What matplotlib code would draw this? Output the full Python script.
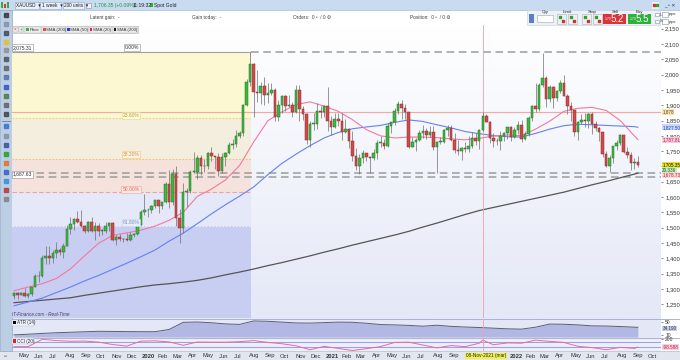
import numpy as np
import pandas as pd
import matplotlib.pyplot as plt
import matplotlib.dates as mdates
from matplotlib.patches import Rectangle
from matplotlib.colors import LinearSegmentedColormap

# weekly XAUUSD candles, one per week starting Monday 2019-04-22
first_week = '2019-04-22'
first_open = 1276
closes = [1286, 1281, 1286, 1277, 1284, 1305, 1341, 1341, 1400, 1409, 1400, 1416, 1426, 1419, 1440, 1497,
          1513, 1527, 1520, 1507, 1488, 1517, 1490, 1505, 1489, 1490, 1505, 1514, 1459, 1468, 1462, 1464,
          1460, 1476, 1478, 1510, 1552,
          1557, 1557, 1571, 1589, 1570, 1584, 1643, 1585, 1674, 1530, 1498, 1617, 1620, 1683, 1683, 1729,
          1700, 1703, 1743, 1735, 1730, 1685, 1730, 1744, 1771, 1774, 1799, 1810, 1902, 1975, 2035, 1944,
          1940, 1964, 1934, 1940, 1950, 1861, 1900, 1930, 1899, 1902, 1879, 1951, 1889, 1871, 1788, 1839,
          1839, 1881, 1877, 1898,
          1849, 1828, 1856, 1847, 1814, 1823, 1784, 1734, 1700, 1727, 1745, 1732, 1729, 1744, 1777, 1777,
          1768, 1831, 1844, 1881, 1905, 1891, 1877, 1764, 1781, 1787, 1808, 1815, 1802, 1814, 1763, 1780,
          1781, 1818, 1827, 1788, 1754, 1750, 1761, 1757, 1767, 1793, 1783, 1818, 1865, 1846, 1792, 1783,
          1782, 1798, 1808, 1829,
          1797, 1818, 1835, 1791, 1807, 1859, 1898, 1889, 1966, 1988, 1921, 1958, 1925, 1945, 1974, 1931,
          1897, 1883, 1811, 1846, 1853, 1850, 1871, 1840, 1827, 1811, 1742, 1703, 1727, 1766, 1775, 1802,
          1747, 1737, 1712, 1716, 1706]
highs = [1289, 1290, 1289, 1304, 1287, 1306, 1348, 1358, 1411, 1439, 1439, 1426, 1453, 1434, 1449, 1510,
         1535, 1531, 1555, 1557, 1510, 1523, 1535, 1519, 1516, 1497, 1518, 1517, 1518, 1475, 1478, 1467,
         1484, 1486, 1482, 1514, 1557,
         1611, 1563, 1574, 1591, 1590, 1585, 1649, 1689, 1692, 1703, 1560, 1645, 1630, 1690, 1747, 1739,
         1736, 1723, 1747, 1765, 1735, 1744, 1744, 1747, 1779, 1789, 1818, 1815, 1905, 1984, 2075, 2039,
         2015, 1977, 1992, 1973, 1973, 1955, 1917, 1933, 1933, 1932, 1911, 1965, 1965, 1898, 1875, 1848,
         1875, 1906, 1896, 1900,
         1959, 1864, 1876, 1875, 1875, 1855, 1825, 1816, 1760, 1740, 1755, 1745, 1733, 1758, 1785, 1798,
         1790, 1843, 1846, 1890, 1913, 1916, 1903, 1878, 1795, 1793, 1818, 1834, 1825, 1832, 1833, 1782,
         1795, 1823, 1834, 1834, 1809, 1787, 1764, 1781, 1800, 1813, 1810, 1823, 1877, 1870, 1849, 1808,
         1793, 1815, 1812, 1830,
         1831, 1830, 1848, 1853, 1815, 1865, 1902, 1974, 1974, 2070, 1995, 1966, 1962, 1949, 1982, 1998,
         1936, 1910, 1886, 1850, 1870, 1874, 1876, 1879, 1847, 1830, 1812, 1752, 1739, 1767, 1788, 1807,
         1802, 1765, 1746, 1729, 1735]
lows = [1266, 1266, 1279, 1274, 1270, 1278, 1305, 1321, 1340, 1382, 1382, 1386, 1401, 1412, 1400, 1440,
        1480, 1492, 1516, 1501, 1484, 1485, 1486, 1459, 1474, 1477, 1483, 1489, 1456, 1445, 1455, 1452,
        1458, 1455, 1471, 1477, 1508,
        1540, 1536, 1548, 1563, 1548, 1562, 1580, 1564, 1573, 1504, 1451, 1483, 1567, 1614, 1680, 1659,
        1672, 1683, 1692, 1717, 1693, 1670, 1677, 1703, 1742, 1757, 1763, 1793, 1801, 1899, 1962, 1863,
        1911, 1903, 1902, 1906, 1933, 1849, 1848, 1873, 1882, 1894, 1860, 1875, 1850, 1853, 1774, 1765,
        1820, 1823, 1859, 1863,
        1817, 1803, 1824, 1831, 1785, 1808, 1760, 1717, 1687, 1676, 1712, 1717, 1677, 1721, 1723, 1762,
        1756, 1765, 1808, 1836, 1870, 1855, 1855, 1761, 1763, 1750, 1782, 1792, 1789, 1795, 1755, 1677,
        1773, 1775, 1800, 1782, 1745, 1737, 1721, 1746, 1746, 1760, 1771, 1758, 1816, 1844, 1778, 1762,
        1770, 1753, 1782, 1789,
        1782, 1792, 1806, 1781, 1788, 1800, 1849, 1878, 1880, 1958, 1895, 1910, 1890, 1915, 1939, 1930,
        1872, 1850, 1798, 1787, 1840, 1828, 1825, 1805, 1817, 1784, 1732, 1697, 1681, 1711, 1754, 1771,
        1745, 1727, 1688, 1691, 1697]

ind_idx = list(range(0, 177, 4)) + [177]
sma20 = [1294, 1306, 1317, 1334, 1365, 1408, 1449, 1475, 1483, 1492, 1505, 1524, 1550, 1602, 1626, 1656,
         1703, 1780, 1849, 1878, 1902, 1911, 1897, 1880, 1853, 1820, 1800, 1793, 1796, 1796, 1794, 1790,
         1787, 1792, 1799, 1803, 1800, 1822, 1848, 1880, 1890, 1893, 1883, 1850, 1800, 1788]
sma50 = [1245, 1257, 1270, 1288, 1306, 1326, 1344, 1364, 1384, 1405, 1427, 1456, 1482, 1513, 1545, 1575,
         1603, 1633, 1673, 1710, 1740, 1768, 1793, 1811, 1823, 1829, 1834, 1844, 1852, 1847, 1836, 1826,
         1814, 1807, 1801, 1797, 1796, 1808, 1822, 1833, 1838, 1836, 1834, 1832, 1830, 1828]
sma200 = [1255, 1259, 1263, 1267, 1271, 1279, 1286, 1293, 1300, 1307, 1313, 1317, 1322, 1328, 1336, 1346,
          1355, 1365, 1376, 1386, 1397, 1408, 1420, 1431, 1443, 1454, 1465, 1476, 1488, 1502, 1515, 1529,
          1543, 1556, 1566, 1576, 1586, 1596, 1606, 1616, 1628, 1640, 1651, 1663, 1675, 1678]
atr14 = [11.5, 13.5, 16, 18, 19.5, 21, 22.4, 22, 21.5, 21.2, 21.2, 28, 49.9, 50.8, 48.5, 45,
         43.5, 54, 53, 50.5, 48, 47.5, 49, 50.5, 50, 47, 43, 42, 40.5, 38, 41, 37.5,
         35.5, 34, 32, 30, 29, 35, 44.5, 44, 42, 39, 38.5, 37, 35, 34.6]
cci_idx = [0, 4, 8, 12, 16, 20, 24, 28, 32, 36, 40, 44, 48, 52, 56, 60, 64, 68, 72, 76, 80, 84, 88, 92,
           96, 100, 104, 108, 112, 116, 120, 124, 128, 132, 133, 136, 140, 144, 148, 152, 156, 160, 164,
           168, 172, 176, 177]
cci20 = [-82, -82, 200, 150, 125, 132, 90, 0, -61, 130, 143, 100, -30, 95, 90, 90, 110, 150, 80, 30, -50,
         -200, -70, -150, -230, -160, -80, 80, 90, -20, -130, -40, -82, 50, 170, -10, 61, 50, 170, 120, 80,
         -70, -120, -200, -110, -150, -98]

fib_high = 2075.31
fib_range = 920
fib_pcts = [0.236, 0.382, 0.5, 0.618]
fib_names = ['23.60%', '38.20%', '50.00%', '61.80%']
fib_end = '2020-08-04'
support_lines = [1678, 1667]
resist_line = 1878
cross_date = '2021-11-08'
price_ticks = list(range(1250, 2151, 50))
hidden_ticks = [1700]
hidden_months = ['2021-10', '2021-11', '2021-12']

plt.rcParams['font.family'] = ['Liberation Sans', 'DejaVu Sans']

W, H = 680, 360
fig = plt.figure(figsize=(W / 100, H / 100), dpi=100)


def px_axes(x0, y0, x1, y1, z):
    a = fig.add_axes([x0 / W, 1 - y1 / H, (x1 - x0) / W, (y1 - y0) / H])
    a.set_zorder(z)
    a.patch.set_alpha(0)
    return a


def box(a, x0, y0, x1, y1, fc, ec='none', lw=0.5, z=1):
    a.add_patch(Rectangle((x0, y0), x1 - x0, y1 - y0, facecolor=fc, edgecolor=ec, lw=lw, zorder=z))


ui = px_axes(0, 0, W, H, 0)
top = px_axes(0, 0, W, H, 10)

# ---- chrome / backgrounds
box(ui, 0, 0, W, H, 'white', z=0)
grad = np.linspace(0, 1, 100)[:, None]
cmap = LinearSegmentedColormap.from_list('bg', ['#ffffff', '#f2f4fb', '#e4e8f7'])
ui.imshow(grad, cmap=cmap, extent=(12, 661, 318, 25), aspect='auto', origin='upper', zorder=0.5)
box(ui, 12, 318, 661, 337.5, '#e4e7f5', z=1)
box(ui, 12, 337.5, 661, 351, '#eceef8', z=1)
ui.plot([12, 680], [318.5, 318.5], color='#aab4d0', lw=0.7, zorder=2)
ui.plot([12, 680], [337.5, 337.5], color='#aab4d0', lw=0.7, zorder=2)
box(ui, 0, 351, W, H, '#e2e6ef', z=1)
ui.plot([0, W], [351, 351], color='#b8c2d4', lw=0.5, zorder=2)
box(ui, 0, 0, W, 9.5, '#c9dbf1', z=1)
ui.plot([0, W], [9.5, 9.5], color='#9cb3d3', lw=0.5, zorder=2)
box(ui, 0, 9.5, 11.5, 351, '#bccee3', ec='#95a9c4', lw=0.5, z=2)
box(ui, 527, 9.5, 660, 25, '#edf1f7', ec='#c7d1de', lw=0.4, z=2)
ui.set_xlim(0, W)
ui.set_ylim(H, 0)
ui.axis('off')

# toolbar icons
icon_y = [15, 24, 33, 42, 50, 59, 68, 77, 87, 96, 105, 114, 126, 136, 145, 154, 163, 172, 181, 190, 199]
icon_c = ['#303030', '#8090a0', '#404a58', '#e8c020', '#909090', '#505050', '#606060', '#5070b0', '#3050c0',
          '#4a7a3a', '#606060', '#404040', '#3070d0', '#8090a0', '#3050a0', '#20a020', '#e07020', '#3060c0',
          '#3090d0', '#c03030', '#808080']
for yy, cc in zip(icon_y, icon_c):
    ui.plot(5.5, yy, marker='s', ms=3.2, color=cc, alpha=0.8, zorder=3)
ui.plot([2, 9.5], [121, 121], color='#6a7c94', lw=0.6, zorder=3)
ui.text(5.5, 355.5, '⇔', fontsize=3.5, ha='center', va='center', color='#405070', zorder=3)

# top bar
box(ui, 1, 2, 3, 8, '#3aa83a', z=3)
box(ui, 4, 3.5, 6, 8, '#d03a3a', z=3)
box(ui, 6.5, 2, 8.5, 8, '#3aa83a', z=3)
for x0, x1, t in [(14.5, 38.5, 'XAUUSD  ▾'), (40, 61, '1 week  ▾'), (62.5, 84, '200 units  ▾')]:
    box(ui, x0, 1.5, x1, 8.5, '#e9f0f9', ec='#8ea4c2', lw=0.4, z=3)
    ui.text(x0 + 1.5, 5.2, t, fontsize=3.4, va='center', color='#202020', zorder=4)
box(ui, 86, 2.5, 91, 7.5, '#f4f4f4', ec='#8090a8', lw=0.4, z=3)
ui.text(93.5, 5.2, '1,706.35 (+0.09%)', fontsize=3.6, va='center', color='#1f9a2a', zorder=4)
ui.text(133, 5.2, '11:19:32', fontsize=3.6, va='center', color='#202020', zorder=4)
box(ui, 150, 3.3, 152.5, 6.8, '#30b030', z=3)
ui.text(154, 5.2, 'Spot Gold', fontsize=3.6, va='center', color='#202020', zorder=4)
box(ui, 652, 1.5, 659, 8.5, '#f0f0f0', z=3)
ui.plot(653.5, 5, marker='s', ms=2, color='#d03030', zorder=4)
ui.plot(657, 5, marker='s', ms=2, color='#30a030', zorder=4)
ui.text(670, 5, '_ ▫ ✕', fontsize=3.6, ha='center', va='center', color='#304060', zorder=4)

# second row
for xx, t in [(90, 'Latent gain:  -'), (192, 'Gain today:  -'), (293, 'Orders:  0 ▫  / 0 ⚙'),
              (410, 'Position:  0 ▫  / 0 ⚙')]:
    ui.text(xx, 17.5, t, fontsize=3.4, va='center', color='#404040', zorder=4)
for xx, t in [(545, 'Qty'), (567, 'Limit'), (592, 'Stop'), (615, 'Sell'), (639, 'Buy')]:
    ui.text(xx, 12, t, fontsize=3.2, ha='center', va='center', color='#303030', zorder=4)
box(ui, 528.5, 13.5, 534, 23, '#5a80c0', z=3)
box(ui, 537, 15, 553, 22, 'white', ec='#9aa8ba', lw=0.4, z=3)
for xx in [557, 568, 582, 593]:
    box(ui, xx, 14, xx + 9, 23.5, '#eef0f2', ec='#a8b0ba', lw=0.4, z=3)
    ui.plot(xx + 3, 17, marker='s', ms=1.8, color='#30a030', zorder=4)
    ui.plot(xx + 6, 20.5, marker='s', ms=1.8, color='#d03030', zorder=4)
box(ui, 603, 13.5, 626, 24, '#d9343a', z=3)
box(ui, 627.5, 13.5, 650.5, 24, '#2eb03a', z=3)
ui.text(605, 19.5, '1.70', fontsize=2.4, va='center', color='white', zorder=4)
ui.text(624, 18.8, '5.2', fontsize=7, ha='right', va='center', color='white', zorder=4)
ui.text(629.5, 19.5, '1.70', fontsize=2.4, va='center', color='white', zorder=4)
ui.text(648.5, 18.8, '5.5', fontsize=7, ha='right', va='center', color='white', zorder=4)
for yy, t in [(14.5, 'L'), (21.5, 'S')]:
    box(ui, 655, yy - 1.8, 658.5, yy + 1.8, 'white', ec='#8090a0', lw=0.4, z=3)
    ui.text(659.5, yy, t, fontsize=3, va='center', color='#303030', zorder=4)
    box(ui, 662, yy - 2.5, 667.5, yy + 2.5, 'white', ec='#8090a0', lw=0.4, z=3)
    ui.text(668.5, yy, 'pips', fontsize=3, va='center', color='#303030', zorder=4)

# ---- data
dates = pd.date_range(first_week, periods=len(closes), freq='7D')
xd = mdates.date2num(dates)
opens = [first_open] + closes[:-1]
xs = xd[ind_idx]
xlim = (mdates.date2num(pd.Timestamp('2019-04-18')), mdates.date2num(pd.Timestamp('2022-10-28')))
xfib = mdates.date2num(pd.Timestamp(fib_end))
xcross = mdates.date2num(pd.Timestamp(cross_date))

ax = px_axes(12, 25, 661, 318, 3)
ax.set_xlim(*xlim)
ax.set_ylim(1205, 2162)

# fibonacci zones
levels = [fib_high] + [fib_high - p * fib_range for p in fib_pcts] + [1205]
zone_c = ['#fbf8d2', '#f4eedf', '#f5e2dc', '#e4e8f8', '#c8cdf2']
for k in range(5):
    ax.fill_between([xlim[0], xfib], levels[k + 1], levels[k], color=zone_c[k], lw=0, zorder=0.5)
ax.hlines(fib_high, xlim[0], xfib, color='#a0a0a0', lw=0.8, zorder=1)
ax.hlines(fib_high, xfib, xlim[1], color='#9c9c9c', lw=1.1, linestyles=(0, (5, 3)), zorder=1)
line_c = ['#eed66a', '#f2c47c', '#f0a49a', '#eef0fc']
line_s = [(0, (1.5, 1.5)), (0, (1.5, 1.5)), (0, (4, 2)), (0, (1.5, 1.5))]
for k in range(4):
    ax.hlines(levels[k + 1], xlim[0], xfib, color=line_c[k], lw=0.8, linestyles=line_s[k], zorder=1)
ax.axhline(resist_line, color='#f4a8a8', lw=0.8, zorder=1)
for v in support_lines:
    ax.axhline(v, color='#9c9c9c', lw=1.1, ls=(0, (5, 3)), zorder=1)

# candles
ax.vlines(xd, lows, highs, color='#6e6e6e', lw=0.5, zorder=3)
bw = 5.0
for xi, o, c in zip(xd, opens, closes):
    up = c >= o
    ax.add_patch(Rectangle((xi - bw / 2, min(o, c)), bw, max(abs(c - o), 1.8),
                           facecolor='#3cb83c' if up else '#cf4a4a',
                           edgecolor='#2a6e2a' if up else '#8a2c2c', lw=0.35, zorder=4))

ax.plot(xs, sma200, color='#555555', lw=0.9, zorder=2)
ax.plot(xs, sma50, color='#6482f0', lw=0.8, zorder=2)
ax.plot(xs, sma20, color='#f27aa0', lw=0.8, zorder=2)
ax.axvline(xcross, color='#f2a0a0', lw=0.6, zorder=2)

ax.yaxis.tick_right()
ax.set_yticks(price_ticks)
ax.set_yticklabels(['' if v in hidden_ticks else f'{v:,}' for v in price_ticks])
ax.tick_params(axis='y', labelsize=4.2, length=1.5, width=0.4, pad=1.5, colors='#333333')
ax.set_xticks([])
for s in ax.spines.values():
    s.set_visible(False)

tr = ax.get_yaxis_transform()
for v, t, fc, tc in [(1878, '1,878', '#f3eaa6', '#803030'), (1827.5, '1,827.50', '#c9d6f8', '#2040b0'),
                     (1786, '1,787.81', '#f9cadb', '#b02050'), (1705.35, '1,705.35', '#ece020', '#101010'),
                     (1688, '20.336', '#bdf0b5', '#206020'), (1672, '1,678.73', '#f6d6d6', '#b03030')]:
    ax.text(1.002, v, t, transform=tr, fontsize=3.3, va='center', ha='left', color=tc, zorder=6,
            bbox=dict(boxstyle='square,pad=0.1', fc=fc, ec='none'), clip_on=False)

# ATR panel
ax_atr = px_axes(12, 319, 661, 337, 3)
ax_atr.set_xlim(*xlim)
ax_atr.set_ylim(5, 60)
ax_atr.fill_between(xs, atr14, 5, color='#b2b7e3', lw=0, zorder=1)
ax_atr.plot(xs, atr14, color='#5a5f75', lw=0.7, zorder=2)
ax_atr.axvline(xcross, color='#f2a0a0', lw=0.6, zorder=2)
ax_atr.yaxis.tick_right()
ax_atr.set_yticks([50, 10])
ax_atr.tick_params(axis='y', labelsize=3.6, length=1.5, width=0.4, pad=1.5, colors='#333333')
ax_atr.set_xticks([])
for s in ax_atr.spines.values():
    s.set_visible(False)
ax_atr.text(1.002, 31, '34.190', transform=ax_atr.get_yaxis_transform(), fontsize=3.3, va='center',
            color='#303050', bbox=dict(boxstyle='square,pad=0.1', fc='#c8d0e8', ec='none'), clip_on=False)

# CCI panel
ax_cci = px_axes(12, 338, 661, 351, 3)
ax_cci.set_xlim(*xlim)
ax_cci.set_ylim(-250, 250)
ax_cci.axhline(100, color='#8c8cf2', lw=0.6)
ax_cci.axhline(-100, color='#8c8cf2', lw=0.6)
ax_cci.plot(xd[cci_idx], cci20, color='#ec6a9a', lw=0.7, zorder=2)
ax_cci.axvline(xcross, color='#f2a0a0', lw=0.6, zorder=2)
ax_cci.yaxis.tick_right()
ax_cci.set_yticks([200])
ax_cci.tick_params(axis='y', labelsize=3.6, length=1.5, width=0.4, pad=1.5, colors='#333333')
ax_cci.text(1.002, -110, '-98.588', transform=ax_cci.get_yaxis_transform(), fontsize=3.3, va='center',
            color='#c02040', bbox=dict(boxstyle='square,pad=0.1', fc='#f8d0dc', ec='none'), clip_on=False)
months = pd.date_range('2019-05-01', '2022-10-01', freq='MS')
month_labels = ['' if m.strftime('%Y-%m') in hidden_months else (m.strftime('%Y') if m.month == 1 else m.strftime('%b'))
                for m in months]
ax_cci.set_xticks(mdates.date2num(months))
ax_cci.set_xticklabels(month_labels)
ax_cci.tick_params(axis='x', labelsize=4.2, length=0, pad=1.8, colors='#333333')
for lab, m in zip(ax_cci.get_xticklabels(), months):
    lab.set_ha('left')
    if m.month == 1:
        lab.set_fontweight('bold')
for s in ax_cci.spines.values():
    s.set_visible(False)

# ---- overlay labels
top.set_xlim(0, W)
top.set_ylim(H, 0)
top.axis('off')
small = dict(fontsize=3.6, va='center', zorder=5)
top.text(13, 47.5, '2,075.31', color='#303030', bbox=dict(boxstyle='square,pad=0.2', fc='white', ec='#909090', lw=0.4), **small)
top.text(125, 47.5, '0.00%', color='#303030', bbox=dict(boxstyle='square,pad=0.2', fc='white', ec='#909090', lw=0.4), **small)
top.text(13, 174, '1,687.63', color='#303030', bbox=dict(boxstyle='square,pad=0.2', fc='white', ec='#909090', lw=0.4), **small)
fib_y = [115.5, 154.5, 189.5, 222]
fib_fc = ['#fffbe0', '#fff4e0', '#fde8e2', '#e8ecfb']
fib_ec = ['#ecd870', '#f0c47c', '#f0a49a', '#c8d0f0']
fib_tc = ['#b0a040', '#c09050', '#d07060', '#8090c0']
for yy, t, fc, ec, tc in zip(fib_y, fib_names, fib_fc, fib_ec, fib_tc):
    top.text(131, yy, t, ha='center', color=tc, bbox=dict(boxstyle='square,pad=0.2', fc=fc, ec=ec, lw=0.4), **small)

# legend row
box(top, 12, 26, 138, 33, '#e2e2e2', ec='#b8b8b8', lw=0.4, z=4)
box(top, 13, 27, 17.5, 32, '#f6f6f6', ec='#a0a0a0', lw=0.3, z=5)
top.text(15.2, 29.5, '×', fontsize=3.4, ha='center', va='center', color='#d02020', zorder=6)
box(top, 18.5, 27, 23, 32, '#f6f6f6', ec='#a0a0a0', lw=0.3, z=5)
top.text(20.7, 29.5, '+', fontsize=3.4, ha='center', va='center', color='#20a020', zorder=6)
for x0, x1, t, c in [(25, 41, 'Price', '#40b040'), (42, 65, 'SMA (200)', '#e05050'), (66, 87.5, 'SMA (50)', '#2040f0'),
                     (88.5, 111.5, 'SMA (20)', '#e0205a'), (112.5, 137, 'SMA (200)', '#101010')]:
    box(top, x0, 26.5, x1, 32.5, '#ececec', ec='#c0c0c0', lw=0.3, z=5)
    box(top, x0 + 1, 27.8, x0 + 3.6, 31.2, c, z=6)
    top.text(x0 + 4.3, 29.6, t, fontsize=3.2, va='center', color='#303030', zorder=6)

top.text(12.5, 315, 'IT-Finance.com - Real-Time', fontsize=3.3, style='italic', va='center', color='#404060', zorder=6)
for yy, t, c in [(322.5, 'ATR (14)', '#000000'), (341, 'CCI (20)', '#e02020')]:
    box(top, 12, yy - 3, 34, yy + 3, '#f0f2fa', ec='#b0b8d0', lw=0.3, z=5)
    box(top, 13, yy - 1.6, 16, yy + 1.6, c, z=6)
    top.text(17, yy, t, fontsize=3.3, va='center', color='#303030', zorder=6)
top.text(486, 356, '08-Nov-2021 (mar)', fontsize=3.4, ha='center', va='center', color='#202020', zorder=6,
         bbox=dict(boxstyle='square,pad=0.15', fc='#f2f048', ec='none'))

fig.savefig('out.png', dpi=100)
